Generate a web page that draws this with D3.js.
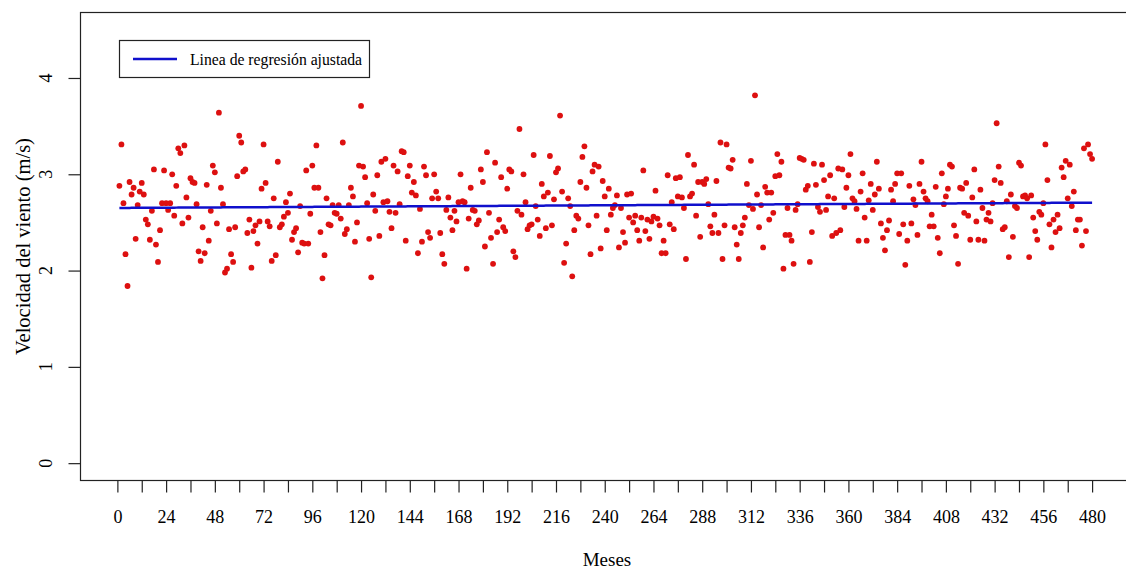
<!DOCTYPE html>
<html>
<head>
<meta charset="utf-8">
<script src="https://cdn.jsdelivr.net/npm/d3@7"></script>
<style>
	body { margin: 0; background: #fff; }
	svg text { font-family: "Liberation Serif", "DejaVu Serif", serif; fill: #000; }
</style>
</head>
<body>
<div id="chart"></div>
<script>
//===== DATA =====//

var xTicks = [0, 12, 24, 36, 48, 60, 72, 84, 96, 108, 120, 132, 144, 156, 168, 180, 192, 204, 216, 228,
	240, 252, 264, 276, 288, 300, 312, 324, 336, 348, 360, 372, 384, 396, 408, 420, 432, 444, 456, 468, 480];
var xLabels = [0, 24, 48, 72, 96, 120, 144, 168, 192, 216, 240, 264, 288, 312, 336, 360, 384, 408, 432, 456, 480];
var yTicks = [0, 1, 2, 3, 4];

// velocidad del viento (m/s), meses 1-120
var windA = [
	2.88, 3.31, 2.70, 2.17, 1.84, 2.92, 2.79, 2.86, 2.33, 2.68,
	2.82, 2.91, 2.79, 2.53, 2.48, 2.32, 2.62, 3.05, 2.27, 2.09,
	2.42, 2.70, 3.04, 2.70, 2.63, 2.70, 3.00, 2.57, 2.88, 3.27,
	3.22, 2.49, 3.30, 2.76, 2.55, 2.96, 2.92, 2.91, 2.69, 2.20,
	2.10, 2.45, 2.18, 2.89, 2.31, 2.62, 3.09, 3.02, 2.49, 3.64,
	2.86, 2.69, 1.98, 2.02, 2.43, 2.17, 2.09, 2.45, 2.98, 3.40,
	3.33, 3.03, 3.05, 2.39, 2.53, 2.03, 2.41, 2.47, 2.28, 2.51,
	2.85, 3.31, 2.91, 2.51, 2.46, 2.10, 2.75, 2.16, 3.13, 2.45,
	2.48, 2.56, 2.71, 2.60, 2.80, 2.32, 2.40, 2.44, 2.19, 2.67,
	2.29, 2.28, 3.04, 2.28, 2.59, 3.09, 2.86, 3.30, 2.86, 2.40,
	1.92, 2.16, 2.75, 2.48, 2.47, 2.68, 2.60, 2.59, 2.68, 2.54,
	3.33, 2.38, 2.43, 2.68, 2.86, 2.77, 2.30, 2.50, 3.09, 3.71
];
// meses 121-240
var windB = [
	3.08, 2.97, 2.70, 2.33, 1.93, 2.79, 2.62, 2.99, 2.36, 3.13,
	2.71, 3.16, 2.72, 2.61, 2.44, 3.09, 2.60, 3.03, 2.69, 3.24,
	3.23, 2.31, 2.98, 3.09, 2.81, 2.92, 2.78, 2.18, 2.64, 2.30,
	3.08, 2.99, 2.40, 2.34, 2.75, 3.00, 2.82, 2.75, 2.39, 2.17,
	2.07, 2.63, 2.76, 2.55, 2.42, 2.62, 2.51, 2.71, 3.00, 2.72,
	2.71, 2.02, 2.54, 2.86, 2.63, 2.62, 2.48, 2.52, 3.05, 2.92,
	2.25, 3.23, 2.60, 2.34, 2.07, 3.12, 2.40, 2.53, 2.97, 2.45,
	2.41, 2.85, 3.05, 3.03, 2.20, 2.14, 2.62, 3.47, 2.58, 3.00,
	2.71, 2.43, 2.47, 2.48, 3.20, 2.67, 2.53, 2.36, 2.90, 2.77,
	2.44, 2.81, 3.19, 2.47, 2.74, 3.02, 3.06, 3.61, 2.82, 2.08,
	2.28, 2.75, 2.67, 1.94, 2.42, 2.57, 2.54, 2.92, 3.18, 3.29,
	2.86, 2.47, 2.17, 3.03, 3.10, 2.57, 3.08, 2.23, 2.93, 2.77
];
// meses 241-360
var windC = [
	2.42, 2.85, 2.58, 2.65, 2.68, 2.78, 2.24, 2.65, 2.40, 2.29,
	2.79, 2.55, 2.80, 2.50, 2.57, 2.42, 2.31, 2.55, 3.04, 2.41,
	2.53, 2.33, 2.51, 2.56, 2.83, 2.54, 2.47, 2.18, 2.31, 2.18,
	2.99, 2.48, 2.71, 2.43, 2.96, 2.77, 2.97, 2.76, 2.65, 2.12,
	3.20, 2.77, 2.80, 3.10, 2.57, 2.92, 2.35, 2.92, 2.90, 2.95,
	2.69, 2.46, 2.39, 2.58, 2.93, 2.39, 3.33, 2.12, 2.47, 3.31,
	3.07, 3.06, 3.15, 2.45, 2.27, 2.12, 2.39, 2.47, 2.55, 2.90,
	2.68, 3.14, 2.64, 3.82, 2.79, 2.45, 2.68, 2.24, 2.87, 2.81,
	2.53, 2.81, 2.60, 2.98, 3.21, 2.99, 3.13, 2.02, 2.37, 2.65,
	2.37, 2.31, 2.07, 2.63, 2.69, 3.17, 3.16, 3.15, 2.84, 2.88,
	2.09, 2.40, 3.11, 2.89, 2.66, 2.61, 3.10, 2.94, 2.63, 2.77,
	2.99, 2.36, 2.75, 2.39, 3.06, 2.42, 3.05, 2.66, 2.86, 2.99
];
// meses 361-480
var windD = [
	3.21, 2.75, 2.72, 2.64, 2.31, 2.82, 3.01, 2.55, 2.31, 2.73,
	2.90, 2.63, 2.79, 3.13, 2.85, 2.49, 2.34, 2.21, 2.42, 2.52,
	2.84, 2.72, 2.90, 3.01, 2.38, 3.01, 2.48, 2.06, 2.31, 2.88,
	2.49, 2.74, 2.68, 2.37, 2.90, 3.13, 2.82, 2.75, 2.72, 2.46,
	2.58, 2.46, 2.87, 2.34, 2.18, 3.01, 2.69, 2.77, 2.85, 3.10,
	3.08, 2.47, 2.36, 2.07, 2.86, 2.85, 2.60, 2.91, 2.57, 2.32,
	2.76, 3.05, 2.51, 2.32, 2.84, 2.65, 2.31, 2.53, 2.60, 2.51,
	2.70, 2.94, 3.53, 3.08, 2.91, 2.43, 2.45, 2.72, 2.14, 2.79,
	2.35, 2.67, 2.65, 3.12, 3.09, 2.77, 2.78, 2.75, 2.14, 2.78,
	2.55, 2.41, 2.32, 2.61, 2.58, 2.70, 3.31, 2.94, 2.48, 2.24,
	2.53, 2.40, 2.58, 2.44, 3.07, 2.97, 3.14, 2.75, 3.10, 2.67,
	2.82, 2.42, 2.53, 2.53, 2.26, 3.27, 2.41, 3.31, 3.21, 3.16
];

var wind = windA.concat(windB, windC, windD);
var points = wind.map(function (v, i) { return {mes: i + 1, vel: v}; });

//===== REGRESSION =====//

var mx = d3.mean(points, function (d) { return d.mes; });
var my = d3.mean(points, function (d) { return d.vel; });
var sxy = d3.sum(points, function (d) { return (d.mes - mx) * (d.vel - my); });
var sxx = d3.sum(points, function (d) { return (d.mes - mx) * (d.mes - mx); });
var slope = sxy / sxx;
var intercept = my - slope * mx;
var fitted = points.map(function (d) { return {mes: d.mes, vel: intercept + slope * d.mes}; });

//===== CHART =====//

var width = 1126, height = 570;
var box = {left: 80.5, top: 12.5, right: 1131, bottom: 480.5};

var svg = d3.select('#chart').append('svg')
	.attr('width', width)
	.attr('height', height);

// R style 4% padding on both axes
var x = d3.scaleLinear().domain([1 - 0.04 * 479, 480 + 0.04 * 479]).range([box.left, box.right]);
var y = d3.scaleLinear().domain([-0.18, 4.68]).range([box.bottom, box.top]);

svg.append('rect')
	.attr('x', box.left).attr('y', box.top)
	.attr('width', box.right - box.left).attr('height', box.bottom - box.top)
	.attr('fill', 'none')
	.attr('stroke', '#222')
	.attr('stroke-width', 1.2);

// x axis
var xAxis = d3.axisBottom(x)
	.tickValues(xTicks)
	.tickSize(12)
	.tickPadding(18)
	.tickFormat(function (d) { return xLabels.indexOf(d) >= 0 ? d : ''; });
var gx = svg.append('g')
	.attr('transform', 'translate(0,' + box.bottom + ')')
	.call(xAxis);
gx.select('.domain').remove();
gx.selectAll('line').attr('stroke', '#222').attr('stroke-width', 1.2);
gx.selectAll('text').attr('font-size', 18).attr('fill', '#000')
	.style('font-family', '"Liberation Serif", serif');

// y axis (ticks only, labels are rotated like R)
var yAxis = d3.axisLeft(y)
	.tickValues(yTicks)
	.tickSize(12)
	.tickFormat('');
var gy = svg.append('g')
	.attr('transform', 'translate(' + box.left + ',0)')
	.call(yAxis);
gy.select('.domain').remove();
gy.selectAll('line').attr('stroke', '#222').attr('stroke-width', 1.2);

svg.append('g').selectAll('text')
	.data(yTicks)
	.enter()
	.append('text')
	.attr('transform', function (d) { return 'translate(52,' + y(d) + ') rotate(-90)'; })
	.attr('text-anchor', 'middle')
	.attr('font-size', 18)
	.text(function (d) { return d; });

// points
svg.append('g').selectAll('circle')
	.data(points)
	.enter()
	.append('circle')
	.attr('cx', function (d) { return x(d.mes); })
	.attr('cy', function (d) { return y(d.vel); })
	.attr('r', 2.9)
	.attr('fill', '#dd1010');

// fitted line
var line = d3.line()
	.x(function (d) { return x(d.mes); })
	.y(function (d) { return y(d.vel); });
svg.append('path')
	.datum(fitted)
	.attr('d', line)
	.attr('fill', 'none')
	.attr('stroke', '#1010cc')
	.attr('stroke-width', 2.5);

// axis titles
svg.append('text')
	.attr('x', 607).attr('y', 566)
	.attr('text-anchor', 'middle')
	.attr('font-size', 19)
	.text('Meses');
svg.append('text')
	.attr('transform', 'translate(30,' + y(2.25) + ') rotate(-90)')
	.attr('text-anchor', 'middle')
	.attr('font-size', 20.5)
	.text('Velocidad del viento (m/s)');

// legend
var legend = svg.append('g');
legend.append('rect')
	.attr('x', 119.5).attr('y', 40.5)
	.attr('width', 250).attr('height', 37)
	.attr('fill', '#fff')
	.attr('stroke', '#222')
	.attr('stroke-width', 1.2);
legend.append('line')
	.attr('x1', 133).attr('x2', 177)
	.attr('y1', 59).attr('y2', 59)
	.attr('stroke', '#1010cc')
	.attr('stroke-width', 2.5);
legend.append('text')
	.attr('x', 190).attr('y', 64.5)
	.attr('font-size', 15.7)
	.text('Linea de regresión ajustada');
</script>
</body>
</html>
